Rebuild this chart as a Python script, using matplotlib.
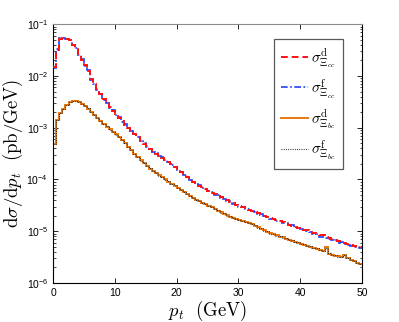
import numpy as np
import matplotlib.pyplot as plt
from matplotlib.font_manager import FontProperties

plt.rcParams['font.family'] = ['Liberation Sans', 'DejaVu Sans']

# p_t bins (GeV), 0.5 GeV wide
pt_edges = np.linspace(0, 50, 101)

# d sigma / d p_t (pb/GeV), one value per bin
xi_cc_d = [1.51e-2, 3.16e-2, 5.25e-2, 5.5e-2, 5.25e-2, 4.9e-2, 3.98e-2, 3.39e-2, 2.63e-2, 2.04e-2,
           1.62e-2, 1.26e-2, 8.7e-3, 6.9e-3, 5.5e-3, 4.4e-3, 3.55e-3, 2.95e-3, 2.51e-3, 2.14e-3,
           1.82e-3, 1.55e-3, 1.32e-3, 1.15e-3, 1.0e-3, 8.7e-4, 7.6e-4, 6.6e-4, 5.6e-4, 4.9e-4,
           4.4e-4, 3.9e-4, 3.47e-4, 3.16e-4, 2.88e-4, 2.63e-4, 2.4e-4, 2.19e-4, 1.95e-4, 1.74e-4,
           1.55e-4, 1.38e-4, 1.23e-4, 1.1e-4, 9.8e-5, 8.9e-5, 8.3e-5, 7.6e-5, 7.1e-5, 6.5e-5,
           6.0e-5, 5.6e-5, 5.25e-5, 4.9e-5, 4.57e-5, 4.17e-5, 3.98e-5, 3.72e-5, 3.47e-5, 3.24e-5,
           3.09e-5, 2.95e-5, 2.82e-5, 2.63e-5, 2.51e-5, 2.34e-5, 2.24e-5, 2.09e-5, 2.0e-5, 1.86e-5,
           1.78e-5, 1.7e-5, 1.62e-5, 1.58e-5, 1.48e-5, 1.41e-5, 1.35e-5, 1.29e-5, 1.23e-5, 1.17e-5,
           1.12e-5, 1.07e-5, 1.05e-5, 1.0e-5, 9.3e-6, 8.9e-6, 8.6e-6, 8.3e-6, 7.6e-6, 7.4e-6,
           7.1e-6, 6.8e-6, 6.5e-6, 6.4e-6, 5.9e-6, 5.6e-6, 5.4e-6, 5.1e-6, 5.0e-6, 4.9e-6]

xi_cc_f = [1.45e-2, 3.3e-2, 5.4e-2, 5.3e-2, 5.1e-2, 4.95e-2, 3.9e-2, 3.45e-2, 2.55e-2, 2.1e-2,
           1.58e-2, 1.3e-2, 8.5e-3, 7.1e-3, 5.4e-3, 4.5e-3, 3.5e-3, 3.0e-3, 2.45e-3, 2.18e-3,
           1.78e-3, 1.58e-3, 1.3e-3, 1.17e-3, 9.8e-4, 8.8e-4, 7.5e-4, 6.7e-4, 5.5e-4, 5.0e-4,
           4.3e-4, 3.95e-4, 3.42e-4, 3.2e-4, 2.85e-4, 2.66e-4, 2.36e-4, 2.22e-4, 1.92e-4, 1.76e-4,
           1.52e-4, 1.4e-4, 1.21e-4, 1.12e-4, 9.6e-5, 9.0e-5, 8.1e-5, 7.7e-5, 6.9e-5, 6.6e-5,
           5.9e-5, 5.7e-5, 5.1e-5, 5.0e-5, 4.45e-5, 4.25e-5, 3.9e-5, 3.78e-5, 3.4e-5, 3.28e-5,
           3.0e-5, 3.0e-5, 2.75e-5, 2.68e-5, 2.44e-5, 2.38e-5, 2.18e-5, 2.12e-5, 1.95e-5, 1.88e-5,
           1.74e-5, 1.72e-5, 1.57e-5, 1.6e-5, 1.44e-5, 1.43e-5, 1.31e-5, 1.3e-5, 1.2e-5, 1.18e-5,
           1.09e-5, 1.08e-5, 1.02e-5, 9.8e-6, 8.7e-6, 8.8e-6, 7.9e-6, 7.9e-6, 7.3e-6, 7.0e-6,
           6.9e-6, 6.5e-6, 6.0e-6, 6.1e-6, 5.6e-6, 5.4e-6, 5.1e-6, 5.0e-6, 4.9e-6, 4.8e-6]

xi_bc_d = [4.8e-4, 1.41e-3, 1.91e-3, 2.34e-3, 2.75e-3, 3.09e-3, 3.31e-3, 3.31e-3, 3.16e-3, 2.88e-3,
           2.63e-3, 2.34e-3, 2.04e-3, 1.78e-3, 1.55e-3, 1.35e-3, 1.17e-3, 1.05e-3, 9.3e-4, 8.3e-4,
           7.4e-4, 6.6e-4, 5.75e-4, 5.0e-4, 4.27e-4, 3.72e-4, 3.16e-4, 2.69e-4, 2.34e-4, 2.04e-4,
           1.82e-4, 1.62e-4, 1.45e-4, 1.32e-4, 1.2e-4, 1.1e-4, 1.0e-4, 9.1e-5, 8.3e-5, 7.6e-5,
           6.9e-5, 6.3e-5, 5.75e-5, 5.25e-5, 4.8e-5, 4.37e-5, 4.07e-5, 3.8e-5, 3.55e-5, 3.31e-5,
           3.09e-5, 2.88e-5, 2.69e-5, 2.51e-5, 2.34e-5, 2.19e-5, 2.04e-5, 1.91e-5, 1.82e-5, 1.74e-5,
           1.66e-5, 1.58e-5, 1.51e-5, 1.45e-5, 1.38e-5, 1.29e-5, 1.2e-5, 1.12e-5, 1.05e-5, 9.8e-6,
           9.1e-6, 8.7e-6, 8.3e-6, 7.9e-6, 7.6e-6, 7.2e-6, 6.9e-6, 6.6e-6, 6.3e-6, 6.0e-6,
           5.75e-6, 5.5e-6, 5.25e-6, 5.0e-6, 4.8e-6, 4.6e-6, 4.37e-6, 4.17e-6, 4.9e-6, 3.7e-6,
           3.55e-6, 3.4e-6, 3.3e-6, 3.16e-6, 3.55e-6, 3.0e-6, 2.82e-6, 2.63e-6, 2.45e-6, 2.29e-6]

xi_bc_f = [4.8e-4, 1.4e-3, 1.93e-3, 2.33e-3, 2.77e-3, 3.08e-3, 3.3e-3, 3.32e-3, 3.15e-3, 2.9e-3,
           2.62e-3, 2.35e-3, 2.03e-3, 1.79e-3, 1.54e-3, 1.36e-3, 1.16e-3, 1.06e-3, 9.2e-4, 8.4e-4,
           7.3e-4, 6.7e-4, 5.7e-4, 5.05e-4, 4.2e-4, 3.75e-4, 3.14e-4, 2.72e-4, 2.32e-4, 2.06e-4,
           1.8e-4, 1.64e-4, 1.43e-4, 1.34e-4, 1.19e-4, 1.11e-4, 9.9e-5, 9.2e-5, 8.2e-5, 7.7e-5,
           6.8e-5, 6.4e-5, 5.7e-5, 5.3e-5, 4.75e-5, 4.4e-5, 4.0e-5, 3.85e-5, 3.5e-5, 3.35e-5,
           3.05e-5, 2.92e-5, 2.65e-5, 2.55e-5, 2.3e-5, 2.22e-5, 2.0e-5, 1.94e-5, 1.79e-5, 1.76e-5,
           1.63e-5, 1.6e-5, 1.49e-5, 1.47e-5, 1.36e-5, 1.3e-5, 1.18e-5, 1.14e-5, 1.03e-5, 9.9e-6,
           9.0e-6, 8.8e-6, 8.2e-6, 8.0e-6, 7.5e-6, 7.3e-6, 6.8e-6, 6.7e-6, 6.2e-6, 6.1e-6,
           5.65e-6, 5.6e-6, 5.15e-6, 5.1e-6, 4.7e-6, 4.7e-6, 4.3e-6, 4.2e-6, 4.8e-6, 3.75e-6,
           3.5e-6, 3.45e-6, 3.25e-6, 3.2e-6, 3.5e-6, 3.05e-6, 2.78e-6, 2.66e-6, 2.42e-6, 2.31e-6]

labels = [r'$\sigma^{\mathrm{d}}_{\Xi_{cc}}$', r'$\sigma^{\mathrm{f}}_{\Xi_{cc}}$',
          r'$\sigma^{\mathrm{d}}_{\Xi_{bc}}$', r'$\sigma^{\mathrm{f}}_{\Xi_{bc}}$']

fig = plt.figure(figsize=(3.99, 3.22), dpi=100)
ax = fig.add_axes([0.133, 0.121, 0.774, 0.804])

ax.stairs(xi_cc_d, pt_edges, baseline=None, color='#ff1010', ls=(0, (3.5, 2)), lw=1.4,
          label=labels[0], zorder=3)
ax.stairs(xi_cc_f, pt_edges, baseline=None, color='#2040ff', ls=(0, (4, 1.5, 1, 1.5)), lw=1.2,
          label=labels[1], zorder=2)
ax.stairs(xi_bc_d, pt_edges, baseline=None, color='#e8780e', ls='-', lw=1.4,
          label=labels[2], zorder=2)
ax.stairs(xi_bc_f, pt_edges, baseline=None, color='#202020', ls=(0, (0.8, 1.2)), lw=0.8,
          label=labels[3], zorder=3)

ax.set_yscale('log')
ax.set_xlim(0, 50)
ax.set_ylim(1e-6, 1e-1)
ax.set_xticks([0, 10, 20, 30, 40, 50])
ax.tick_params(which='both', direction='in', top=True, right=True, labelsize=7.5)
ax.tick_params(which='major', length=3.5, width=0.6)
ax.tick_params(which='minor', length=1.8, width=0.5)
for s in ax.spines.values():
    s.set_linewidth(0.8)
ax.spines['top'].set_color('0.55')

ax.set_xlabel(r'$p_t\ \ (\mathrm{GeV})$', fontsize=13.5, math_fontfamily='cm', labelpad=1)
ax.set_ylabel(r'$\mathrm{d}\sigma/\mathrm{d}p_t\ \ (\mathrm{pb/GeV})$', fontsize=13.5,
              math_fontfamily='cm', labelpad=1)

leg_font = FontProperties(size=11, math_fontfamily='cm')
leg = ax.legend(prop=leg_font, loc='upper right', bbox_to_anchor=(343 / 399, 1 - 39 / 322),
                bbox_transform=fig.transFigure, borderaxespad=0, fancybox=False,
                framealpha=1, handlelength=1.8, labelspacing=0.45, handletextpad=0.2,
                borderpad=0.45)
leg.get_frame().set_edgecolor('0.35')
leg.get_frame().set_linewidth(0.9)

fig.savefig('out.png', dpi=100)
